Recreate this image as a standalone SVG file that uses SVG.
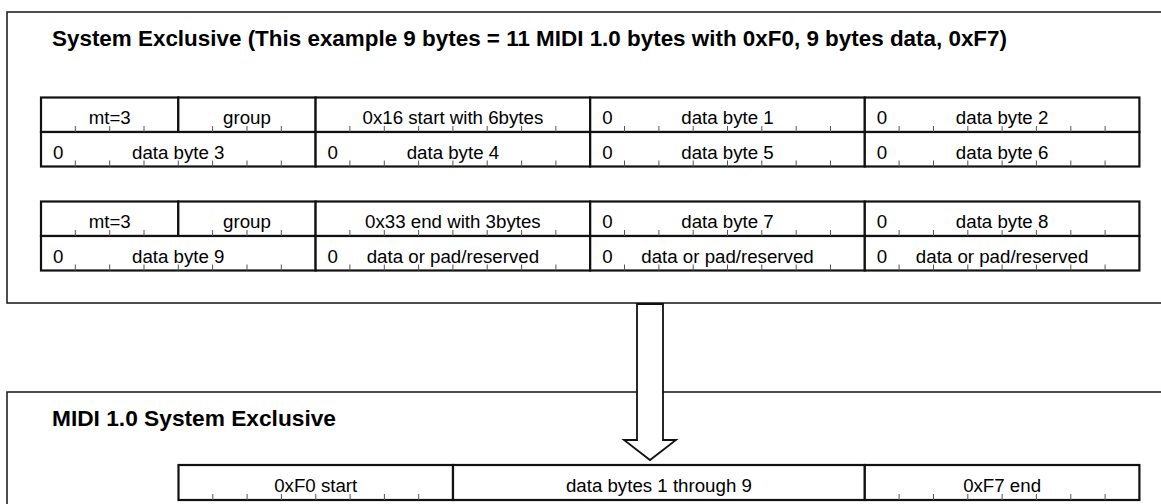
<svg xmlns="http://www.w3.org/2000/svg" width="1161" height="504" viewBox="0 0 1161 504">
<style>
.frame{fill:#fff;stroke:#222;stroke-width:1.6}
.cell{fill:#fff;stroke:#111;stroke-width:2.2}
.tick{stroke:#555;stroke-width:1;fill:none}
.t{font-family:"Liberation Sans",Arial,Helvetica,sans-serif;font-size:18.7px;fill:#000;text-anchor:middle}
.title{font-family:"Liberation Sans",Arial,Helvetica,sans-serif;font-size:21.5px;font-weight:bold;fill:#000}
.arrow{fill:#fff;stroke:#111;stroke-width:1.8;stroke-linejoin:miter}
</style>
<rect width="1161" height="504" fill="#fff"/>
<g id="ump-frame">
<rect class="frame" x="7" y="12" width="1170" height="291"/>
<text class="title" x="52" y="46" textLength="955" lengthAdjust="spacingAndGlyphs">System Exclusive (This example 9 bytes = 11 MIDI 1.0 bytes with 0xF0, 9 bytes data, 0xF7)</text>
</g>
<g id="midi1-frame">
<rect class="frame" x="7" y="392" width="1170" height="200"/>
<text class="title" x="52" y="426" textLength="284" lengthAdjust="spacingAndGlyphs">MIDI 1.0 System Exclusive</text>
</g>
<g id="packet1">
<g id="p1-mt"><rect class="cell" x="41" y="97.5" width="137.3" height="34.5"/><text class="t" x="109.7" y="124">mt=3</text></g>
<g id="p1-group"><rect class="cell" x="178.3" y="97.5" width="137.3" height="34.5"/><text class="t" x="247" y="124">group</text></g>
<g id="p1-status"><rect class="cell" x="315.6" y="97.5" width="274.6" height="34.5"/><text class="t" x="452.9" y="124">0x16 start with 6bytes</text></g>
<g id="p1-db1"><rect class="cell" x="590.2" y="97.5" width="274.6" height="34.5"/><text class="t" x="607.4" y="124">0</text><text class="t" x="727.5" y="124">data byte 1</text></g>
<g id="p1-db2"><rect class="cell" x="864.8" y="97.5" width="274.6" height="34.5"/><text class="t" x="882" y="124">0</text><text class="t" x="1002.1" y="124">data byte 2</text></g>
<g id="p1-db3"><rect class="cell" x="41" y="132" width="274.6" height="34.5"/><text class="t" x="58.2" y="158.5">0</text><text class="t" x="178.3" y="158.5">data byte 3</text></g>
<g id="p1-db4"><rect class="cell" x="315.6" y="132" width="274.6" height="34.5"/><text class="t" x="332.8" y="158.5">0</text><text class="t" x="452.9" y="158.5">data byte 4</text></g>
<g id="p1-db5"><rect class="cell" x="590.2" y="132" width="274.6" height="34.5"/><text class="t" x="607.4" y="158.5">0</text><text class="t" x="727.5" y="158.5">data byte 5</text></g>
<g id="p1-db6"><rect class="cell" x="864.8" y="132" width="274.6" height="34.5"/><text class="t" x="882" y="158.5">0</text><text class="t" x="1002.1" y="158.5">data byte 6</text></g>
<path class="tick" d="M75.3 126V132M109.7 126V132M144 126V132M212.6 126V132M247 126V132M281.3 126V132M349.9 126V132M384.3 126V132M418.6 126V132M452.9 126V132M487.2 126V132M521.6 126V132M555.9 126V132M624.5 126V132M658.9 126V132M693.2 126V132M727.5 126V132M761.8 126V132M796.2 126V132M830.5 126V132M899.1 126V132M933.5 126V132M967.8 126V132M1002.1 126V132M1036.4 126V132M1070.8 126V132M1105.1 126V132"/>
<path class="tick" d="M75.3 160.5V166.5M109.7 160.5V166.5M144 160.5V166.5M178.3 160.5V166.5M212.6 160.5V166.5M247 160.5V166.5M281.3 160.5V166.5M349.9 160.5V166.5M384.3 160.5V166.5M418.6 160.5V166.5M452.9 160.5V166.5M487.2 160.5V166.5M521.6 160.5V166.5M555.9 160.5V166.5M624.5 160.5V166.5M658.9 160.5V166.5M693.2 160.5V166.5M727.5 160.5V166.5M761.8 160.5V166.5M796.2 160.5V166.5M830.5 160.5V166.5M899.1 160.5V166.5M933.5 160.5V166.5M967.8 160.5V166.5M1002.1 160.5V166.5M1036.4 160.5V166.5M1070.8 160.5V166.5M1105.1 160.5V166.5"/>
</g>
<g id="packet2">
<g id="p2-mt"><rect class="cell" x="41" y="201.5" width="137.3" height="34.5"/><text class="t" x="109.7" y="228">mt=3</text></g>
<g id="p2-group"><rect class="cell" x="178.3" y="201.5" width="137.3" height="34.5"/><text class="t" x="247" y="228">group</text></g>
<g id="p2-status"><rect class="cell" x="315.6" y="201.5" width="274.6" height="34.5"/><text class="t" x="452.9" y="228">0x33 end with 3bytes</text></g>
<g id="p2-db7"><rect class="cell" x="590.2" y="201.5" width="274.6" height="34.5"/><text class="t" x="607.4" y="228">0</text><text class="t" x="727.5" y="228">data byte 7</text></g>
<g id="p2-db8"><rect class="cell" x="864.8" y="201.5" width="274.6" height="34.5"/><text class="t" x="882" y="228">0</text><text class="t" x="1002.1" y="228">data byte 8</text></g>
<g id="p2-db9"><rect class="cell" x="41" y="236" width="274.6" height="34.5"/><text class="t" x="58.2" y="262.5">0</text><text class="t" x="178.3" y="262.5">data byte 9</text></g>
<g id="p2-pad1"><rect class="cell" x="315.6" y="236" width="274.6" height="34.5"/><text class="t" x="332.8" y="262.5">0</text><text class="t" x="452.9" y="262.5">data or pad/reserved</text></g>
<g id="p2-pad2"><rect class="cell" x="590.2" y="236" width="274.6" height="34.5"/><text class="t" x="607.4" y="262.5">0</text><text class="t" x="727.5" y="262.5">data or pad/reserved</text></g>
<g id="p2-pad3"><rect class="cell" x="864.8" y="236" width="274.6" height="34.5"/><text class="t" x="882" y="262.5">0</text><text class="t" x="1002.1" y="262.5">data or pad/reserved</text></g>
<path class="tick" d="M75.3 230V236M109.7 230V236M144 230V236M212.6 230V236M247 230V236M281.3 230V236M349.9 230V236M384.3 230V236M418.6 230V236M452.9 230V236M487.2 230V236M521.6 230V236M555.9 230V236M624.5 230V236M658.9 230V236M693.2 230V236M727.5 230V236M761.8 230V236M796.2 230V236M830.5 230V236M899.1 230V236M933.5 230V236M967.8 230V236M1002.1 230V236M1036.4 230V236M1070.8 230V236M1105.1 230V236"/>
<path class="tick" d="M75.3 264.5V270.5M109.7 264.5V270.5M144 264.5V270.5M178.3 264.5V270.5M212.6 264.5V270.5M247 264.5V270.5M281.3 264.5V270.5M349.9 264.5V270.5M384.3 264.5V270.5M418.6 264.5V270.5M452.9 264.5V270.5M487.2 264.5V270.5M521.6 264.5V270.5M555.9 264.5V270.5M624.5 264.5V270.5M658.9 264.5V270.5M693.2 264.5V270.5M727.5 264.5V270.5M761.8 264.5V270.5M796.2 264.5V270.5M830.5 264.5V270.5M899.1 264.5V270.5M933.5 264.5V270.5M967.8 264.5V270.5M1002.1 264.5V270.5M1036.4 264.5V270.5M1070.8 264.5V270.5M1105.1 264.5V270.5"/>
</g>
<g id="midi1-message">
<g id="m-start"><rect class="cell" x="178.5" y="465" width="274.5" height="35"/><text class="t" x="315.7" y="492">0xF0 start</text></g>
<g id="m-data"><rect class="cell" x="453" y="465" width="411.8" height="35"/><text class="t" x="658.9" y="492">data bytes 1 through 9</text></g>
<g id="m-end"><rect class="cell" x="864.8" y="465" width="274.6" height="35"/><text class="t" x="1002.1" y="492">0xF7 end</text></g>
<path class="tick" d="M212.8 494V500M247.1 494V500M281.4 494V500M315.8 494V500M350.1 494V500M384.4 494V500M418.7 494V500M899.1 494V500M933.5 494V500M967.8 494V500M1002.1 494V500M1036.4 494V500M1070.8 494V500M1105.1 494V500"/>
</g>
<g id="connectors">
<polygon class="arrow" points="637,304 663,304 663,440 676,440 650,460 624,440 637,440"/>
</g>
</svg>
